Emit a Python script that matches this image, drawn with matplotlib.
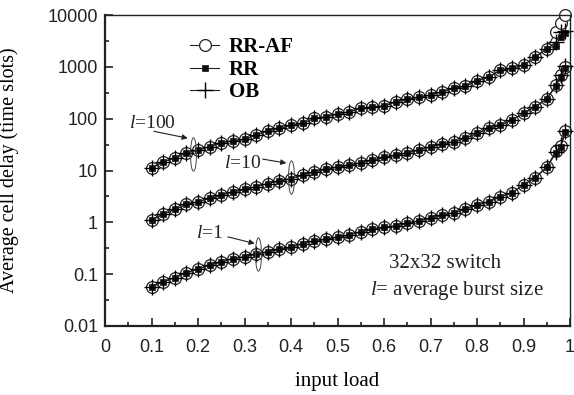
import numpy as np
import matplotlib
matplotlib.use('Agg')
import matplotlib.pyplot as plt
import matplotlib.path as mpath
from matplotlib.transforms import Affine2D
from matplotlib.ticker import FixedLocator, NullFormatter

plt.rcParams['mathtext.fontset'] = 'custom'
plt.rcParams['mathtext.rm'] = 'Liberation Serif'
plt.rcParams['mathtext.it'] = 'Liberation Serif:italic'

# carga de entrada (0.1 .. 0.95 a cada 0.025, depois 0.97, 0.98, 0.99)
load = [0.1, 0.125, 0.15, 0.175, 0.2, 0.225, 0.25, 0.275, 0.3, 0.325, 0.35, 0.375,
        0.4, 0.425, 0.45, 0.475, 0.5, 0.525, 0.55, 0.575, 0.6, 0.625, 0.65, 0.675,
        0.7, 0.725, 0.75, 0.775, 0.8, 0.825, 0.85, 0.875, 0.9, 0.925, 0.95,
        0.97, 0.98, 0.99]

# atraso medio, parte comum aos tres algoritmos (ate 0.95)
l1_base = [0.057, 0.071, 0.086, 0.106, 0.125, 0.149, 0.173, 0.20, 0.216, 0.243, 0.27, 0.30,
           0.33, 0.39, 0.44, 0.47, 0.52, 0.57, 0.66, 0.73, 0.80, 0.85, 0.95, 1.07,
           1.19, 1.38, 1.53, 1.78, 2.15, 2.49, 3.1, 3.7, 5.3, 7.3, 11.5]
l10_base = [1.10, 1.44, 1.77, 2.24, 2.49, 2.89, 3.35, 3.88, 4.3, 4.9, 5.6, 6.3,
            7.0, 8.1, 9.4, 10.5, 11.8, 12.7, 14.1, 15.8, 17.9, 19.8, 22, 24.8,
            28.6, 32.4, 35.8, 41.7, 52, 65, 75, 94, 126, 169, 240]
l100_base = [11, 14.8, 17.2, 22, 24.8, 28.7, 34.3, 37.4, 39.8, 48.2, 58.3, 64.9,
             75, 81, 101, 109, 123, 136, 158, 170, 175, 212, 236, 258,
             286, 330, 385, 426, 540, 627, 867, 935, 1084, 1524, 2250]

# ultimos pontos (0.97, 0.98, 0.99) por algoritmo
tail_rraf = {'l1': [24, 30, 58], 'l10': [445, 690, 1000], 'l100': [4800, 7000, 10000]}
tail_rr = {'l1': [22, 29, 55], 'l10': [430, 650, 950], 'l100': [2560, 3800, 4500]}
tail_ob = {'l1': [23, 31, 57], 'l10': [450, 700, 1050], 'l100': [3000, 4800, 5000]}

fig = plt.figure(figsize=(5.74, 3.95), dpi=100)
ax = fig.add_axes([105 / 574, 1 - 326 / 395, 465 / 574, 311 / 395])

series = [
    ('RR-AF', tail_rraf, dict(marker='o', ms=8.5, mfc='white', mec='#222222', mew=0.9)),
    ('RR', tail_rr, dict(marker='s', ms=4, mfc='#111111', mec='#111111', mew=0.5)),
    ('OB', tail_ob, dict(marker='+', ms=11, mec='black', mew=1.0)),
]

for nome, tail, st in series:
    for i, (key, base) in enumerate([('l1', l1_base), ('l10', l10_base), ('l100', l100_base)]):
        y = base + tail[key]
        ax.plot(load, y, color='#222222', lw=0.8, label=nome if i == 0 else None,
                clip_on=False, **st)

ax.set_yscale('log')
ax.set_xlim(0, 1)
ax.set_ylim(0.01, 10000)

ax.xaxis.set_major_locator(FixedLocator(np.arange(0, 1.01, 0.1)))
ax.xaxis.set_minor_locator(FixedLocator(np.arange(0.05, 1.0, 0.1)))
ax.set_xticklabels(['0', '0.1', '0.2', '0.3', '0.4', '0.5', '0.6', '0.7', '0.8', '0.9', '1'])
ax.yaxis.set_major_locator(FixedLocator([0.01, 0.1, 1, 10, 100, 1000, 10000]))
ax.yaxis.set_minor_locator(FixedLocator([10 ** (k + 0.5) for k in range(-2, 4)]))
ax.yaxis.set_minor_formatter(NullFormatter())
ax.set_yticklabels(['0.01', '0.1', '1', '10', '100', '1000', '10000'])

ax.tick_params(axis='both', which='both', direction='in', top=False, right=False,
               labelsize=13, colors='#222222', width=1.2)
ax.tick_params(axis='x', which='major', length=6, pad=9)
ax.tick_params(axis='x', which='minor', length=3)
ax.tick_params(axis='y', which='major', length=6, pad=5)
ax.tick_params(axis='y', which='minor', length=3)
for lab in ax.get_xticklabels() + ax.get_yticklabels():
    lab.set_family('Liberation Sans')
for sp in ax.spines.values():
    sp.set_linewidth(1.0)
    sp.set_color('#222222')
ax.spines['bottom'].set_linewidth(1.6)
ax.spines['left'].set_linewidth(1.6)

ax.set_xlabel('input load', family='Liberation Serif', fontsize=15)
ax.set_ylabel('Average cell delay (time slots)', family='Liberation Serif', fontsize=14.5)
ax.xaxis.set_label_coords(0.5, -0.148)
ax.yaxis.set_label_coords(-0.185, 0.5)

leg = ax.legend(loc='upper left', bbox_to_anchor=(0.165, 0.955), frameon=False,
                prop={'family': 'Liberation Serif', 'weight': 'bold', 'size': 15},
                handlelength=1.4, handletextpad=0.45, labelspacing=0.12, borderaxespad=0)

# anotacoes l=100, l=10, l=1
seta = dict(arrowstyle='-|>', lw=0.8, color='#222222', mutation_scale=8,
            shrinkA=0, shrinkB=0)
elipse = mpath.Path.unit_circle().transformed(Affine2D().scale(0.18, 1.0))
anot = [
    ('=100', (0.103, 82), (0.105, 57), (0.178, 42), (0.19, 21)),
    ('=10', (0.296, 13.9), (0.339, 16.6), (0.39, 13.9), (0.40, 7.5)),
    ('=1', (0.225, 0.62), (0.264, 0.525), (0.322, 0.39), (0.328, 0.25)),
]
for txt, pos, ini, fim, centro in anot:
    ax.text(pos[0], pos[1], r'$\mathit{l}$' + txt, family='Liberation Serif', fontsize=14,
            ha='center', va='center', color='#222222')
    ax.annotate('', xy=fim, xytext=ini, arrowprops=seta)
    ax.plot([centro[0]], [centro[1]], marker=elipse, ms=24, mfc='none', mec='#444444',
            mew=0.7, ls='none')

ax.text(0.732, 0.163, '32x32 switch', family='Liberation Serif', fontsize=15,
        ha='center', va='center', color='#222222')
ax.text(0.757, 0.049, r'$\mathit{l}$= average burst size', family='Liberation Serif',
        fontsize=15, ha='center', va='center', color='#222222')

fig.savefig('out.png', dpi=100)
